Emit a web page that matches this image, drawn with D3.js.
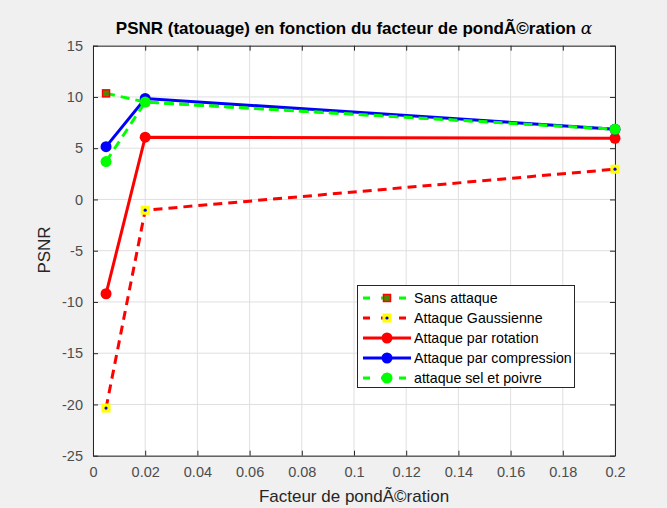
<!DOCTYPE html>
<html><head><meta charset="utf-8">
<script src="https://cdn.jsdelivr.net/npm/d3@7"></script>
<style>
body{margin:0;background:#f0f0f0;}
svg{display:block;font-family:"Liberation Sans",Arial,Helvetica,sans-serif;}
</style></head>
<body><svg id="c" width="667" height="508"></svg>
<script>
const xValues = [0.005, 0.02, 0.2];
const sansAttaque = [10.35, 9.5, 6.85];
const gaussienne = [-20.35, -1.05, 2.95];
const rotation = [-9.2, 6.07, 5.97];
const compression = [5.15, 9.85, 6.85];
const selPoivre = [3.7, 9.5, 6.85];
const seriesNames = ["Sans attaque","Attaque Gaussienne","Attaque par rotation","Attaque par compression","attaque sel et poivre"];
const xTicks = [0,0.02,0.04,0.06,0.08,0.1,0.12,0.14,0.16,0.18,0.2];
const yTicks = [-25,-20,-15,-10,-5,0,5,10,15];

const svg = d3.select("#c");
const L=93, R=615, T=45.7, B=455.7;
const x = d3.scaleLinear().domain([0,0.2]).range([L,R]);
const y = d3.scaleLinear().domain([-25,15]).range([B,T]);

svg.append("rect").attr("x",L).attr("y",T).attr("width",R-L).attr("height",B-T).attr("fill","#fff");
// grid
svg.append("g").selectAll("line").data(xTicks).join("line")
  .attr("x1",d=>x(d)).attr("x2",d=>x(d)).attr("y1",T).attr("y2",B).attr("stroke","#dfdfdf").attr("stroke-width",1);
svg.append("g").selectAll("line").data(yTicks).join("line")
  .attr("y1",d=>y(d)).attr("y2",d=>y(d)).attr("x1",L).attr("x2",R).attr("stroke","#dfdfdf").attr("stroke-width",1);

const fmt = d=> d===0?"0":String(+d.toFixed(2));
const axCol="#262626";
const gx = svg.append("g").attr("transform",`translate(0,${B})`)
  .call(d3.axisBottom(x).tickValues(xTicks).tickFormat(fmt).tickSizeInner(-5).tickSizeOuter(0).tickPadding(11));
const gy = svg.append("g").attr("transform",`translate(${L},0)`)
  .call(d3.axisLeft(y).tickValues(yTicks).tickFormat(fmt).tickSizeInner(-5).tickSizeOuter(0).tickPadding(10));
const gxt = svg.append("g").attr("transform",`translate(0,${T})`)
  .call(d3.axisTop(x).tickValues(xTicks).tickFormat("").tickSizeInner(-5).tickSizeOuter(0));
const gyr = svg.append("g").attr("transform",`translate(${R},0)`)
  .call(d3.axisRight(y).tickValues(yTicks).tickFormat("").tickSizeInner(-5).tickSizeOuter(0));
[gx,gy,gxt,gyr].forEach(g=>{
  g.selectAll("path").attr("stroke",axCol);
  g.selectAll("line").attr("stroke",axCol);
  g.selectAll("text").attr("fill","#4d4d4d").style("font-size","14.5px").style("font-family","Liberation Sans,Arial,sans-serif");
});

const line = d3.line().x((d,i)=>x(xValues[i])).y(d=>y(d));
const series = [
  {name:seriesNames[0], data:sansAttaque, color:"#00ff00", dash:"9,6", marker:"sq", mfill:"#00ff00", mstroke:"#ff0000"},
  {name:seriesNames[1], data:gaussienne, color:"#ff0000", dash:"9,6", marker:"sqdot", mfill:"#ffff00", mstroke:"#ffff00"},
  {name:seriesNames[2], data:rotation, color:"#ff0000", dash:null, marker:"circ", mfill:"#ff0000"},
  {name:seriesNames[3], data:compression, color:"#0000ff", dash:null, marker:"circ", mfill:"#0000ff"},
  {name:seriesNames[4], data:selPoivre, color:"#00ff00", dash:"9,6", marker:"circ", mfill:"#00ff00"}
];
function drawMarker(g, s, cx, cy){
  if(s.marker==="circ"){
    g.append("circle").attr("cx",cx).attr("cy",cy).attr("r",5.5).attr("fill",s.mfill);
  } else if(s.marker==="sq"){
    g.append("rect").attr("x",cx-3.5).attr("y",cy-3.5).attr("width",7).attr("height",7)
      .attr("fill","#4a8a00").attr("stroke",s.mstroke).attr("stroke-width",1.5);
  } else {
    g.append("rect").attr("x",cx-4.5).attr("y",cy-4.5).attr("width",9).attr("height",9).attr("fill",s.mfill);
    g.append("circle").attr("cx",cx).attr("cy",cy).attr("r",1.6).attr("fill","#0000ff");
  }
}
const plot = svg.append("g");
series.forEach(s=>{
  const g = plot.append("g");
  g.append("path").datum(s.data).attr("d",line).attr("fill","none").attr("stroke",s.color)
    .attr("stroke-width",3).attr("stroke-dasharray",s.dash);
  s.data.forEach((v,i)=>drawMarker(g,s,x(xValues[i]),y(v)));
});

// legend
const lg = svg.append("g");
lg.append("rect").attr("x",357.5).attr("y",285.5).attr("width",217).attr("height",102).attr("fill","#fff").attr("stroke","#262626").attr("stroke-width",1);
series.forEach((s,i)=>{
  const yy = 298 + i*20;
  lg.append("line").attr("x1",363).attr("x2",411).attr("y1",yy).attr("y2",yy).attr("stroke",s.color)
    .attr("stroke-width",3).attr("stroke-dasharray",s.dash?"7,11":null);
  drawMarker(lg,s,387,yy);
  lg.append("text").attr("x",414).attr("y",yy+5).text(s.name).style("font-size","14.2px").attr("fill","#000");
});

// titles
const title = svg.append("text").attr("x",354).attr("y",34).attr("text-anchor","middle")
  .style("font-size","17px").style("font-weight","bold").attr("fill","#000");
title.append("tspan").text("PSNR (tatouage) en fonction du facteur de pondÃ©ration ");
title.append("tspan").text("α").style("font-family","DejaVu Serif,serif").style("font-style","italic").style("font-weight","normal");
svg.append("text").attr("x",354).attr("y",502).attr("text-anchor","middle").style("font-size","17px").attr("fill","#262626").text("Facteur de pondÃ©ration");
svg.append("text").attr("transform","translate(50,250) rotate(-90)").attr("text-anchor","middle").style("font-size","17px").attr("fill","#262626").text("PSNR");
</script></body></html>
